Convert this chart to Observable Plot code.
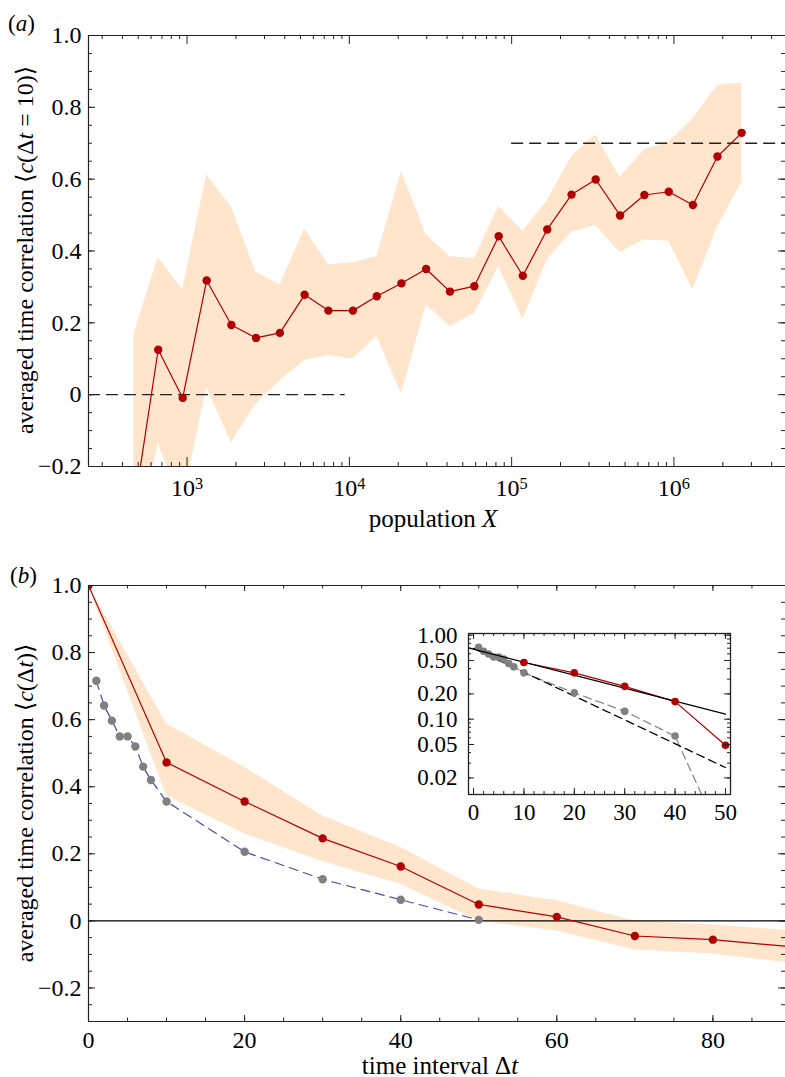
<!DOCTYPE html>
<html>
<head>
<meta charset="utf-8">
<script src="https://cdn.jsdelivr.net/npm/d3@7"></script>
<script src="https://cdn.jsdelivr.net/npm/@observablehq/plot@0.6"></script>
<style>
  html, body { margin: 0; padding: 0; background: #fff; }
  #root { position: relative; width: 785px; height: 1077px; font-family: "Liberation Serif", "DejaVu Serif", serif; }
  #root > div, #root > svg { position: absolute; }
</style>
</head>
<body>
<div id="root"></div>
<script>
// ---------- Panel (a) data ----------
const popX  = [470, 664, 940, 1321, 1875, 2661, 3733, 5297, 7430, 10520, 14760, 20940, 29720, 41690, 58880, 83180, 117200, 165600, 233900, 329600, 465600, 657600, 928900, 1309000, 1854000, 2612000];
const corrA = [-0.32, 0.125, -0.009, 0.318, 0.194, 0.158, 0.172, 0.278, 0.234, 0.234, 0.274, 0.310, 0.350, 0.287, 0.302, 0.441, 0.331, 0.460, 0.557, 0.599, 0.499, 0.556, 0.565, 0.528, 0.663, 0.729];
const lowA  = [-0.435, -0.137, -0.30, 0.020, -0.133, -0.026, 0.039, 0.095, 0.109, 0.099, 0.162, 0.002, 0.250, 0.190, 0.225, 0.357, 0.209, 0.375, 0.452, 0.471, 0.396, 0.431, 0.427, 0.292, 0.466, 0.591];
const highA = [0.167, 0.382, 0.292, 0.613, 0.522, 0.341, 0.306, 0.461, 0.362, 0.367, 0.385, 0.621, 0.446, 0.384, 0.379, 0.524, 0.454, 0.540, 0.663, 0.723, 0.605, 0.682, 0.703, 0.768, 0.861, 0.868];
const refZeroX = [247, 9300];      // dashed reference at 0
const refHighX = [100000, 4868000]; // dashed reference at 0.7
const refHighY = 0.7;
const xTicksA = [1e3, 1e4, 1e5, 1e6];

// ---------- Panel (b) data ----------
const dtRed   = [0, 10, 20, 30, 40, 50, 60, 70, 80, 90];
const corrRed = [1.0, 0.4725, 0.356, 0.246, 0.162, 0.049, 0.012, -0.045, -0.056, -0.077];
const lowB    = [1.0, 0.373, 0.259, 0.177, 0.109, 0.0, -0.030, -0.087, -0.099, -0.126];
const highB   = [1.0, 0.587, 0.458, 0.313, 0.219, 0.095, 0.060, 0.0, -0.012, -0.029];
const dtGray   = [1, 2, 3, 4, 5, 6, 7, 8, 10, 20, 30, 40, 50];
const corrGray = [0.716, 0.642, 0.597, 0.550, 0.550, 0.520, 0.460, 0.420, 0.356, 0.206, 0.124, 0.063, 0.003];
const xTicksB = [0, 20, 40, 60, 80];

// ---------- Inset data ----------
const fitSolidT = [-1, 50];
const fitSolidC = [0.706, 0.115];
const fitDashT  = [0, 50];
const fitDashC  = [0.695, 0.0266];
const insetYTicks = [1, 0.5, 0.2, 0.1, 0.05, 0.02];
const insetXTicks = [0, 10, 20, 30, 40, 50];

// ---------- colours ----------
const RED = "#b00000", BAND = "#ffe5cc", GRAY = "#808080", BLUE = "#4a4aa8", INK = "#222";
const FONT = "'Liberation Serif', 'DejaVu Serif', serif";
const TICKFS = 24;

const root = document.getElementById("root");

function range(a, b, s) { const out = []; for (let v = a; v <= b + 1e-9; v += s) out.push(+v.toFixed(6)); return out; }
const fmtY = d => d === 0 ? "0" : (d < 0 ? "\u2212" + Math.abs(d).toFixed(1) : d.toFixed(1));

function yTicks(major, minor, W, side) {
  const ins = side === "left" ? "insetRight" : "insetLeft";
  return [
    Plot.tickY(minor, {y: d => d, stroke: INK, strokeWidth: 1, [ins]: W - 4}),
    Plot.tickY(major, {y: d => d, stroke: INK, strokeWidth: 1, [ins]: W - 7})
  ];
}
function xTicks(major, minor, H, side, majLen = 9, minLen = 4) {
  const ins = side === "bottom" ? "insetTop" : "insetBottom";
  return [
    Plot.tickX(minor, {x: d => d, stroke: INK, strokeWidth: 1, [ins]: H - minLen}),
    Plot.tickX(major, {x: d => d, stroke: INK, strokeWidth: 1, [ins]: H - majLen})
  ];
}
function addText(svg, x, y, parts, opts = {}) {
  const t = d3.select(svg).append("text")
    .attr("x", x).attr("y", y)
    .attr("font-family", FONT).attr("font-size", opts.size || 24)
    .attr("text-anchor", opts.anchor || "middle").attr("fill", "#000");
  if (opts.rotate) t.attr("transform", `rotate(-90 ${x} ${y})`);
  for (const p of parts) {
    const s = t.append("tspan").text(p.t);
    if (p.i) s.attr("font-style", "italic");
  }
  return t;
}

// ================= Panel (a) =================
{
  const W = 785, H = 550, mL = 88, mR = 0, mT = 35, mB = 84;
  const pw = W - mL - mR, ph = H - mT - mB;
  const data = popX.map((x, i) => ({x, y: corrA[i], lo: lowA[i], hi: highA[i]}));
  const xDom = [247, 4868000];
  const yMinor = range(-0.2, 1.0, 0.05);
  const yMajor = range(-0.2, 1.0, 0.2);
  const xMinor = [];
  for (let e = 2; e <= 6; e++) for (let k = 2; k <= 9; k++) { const v = k * 10 ** e; if (v > xDom[0] && v < xDom[1]) xMinor.push(v); }

  const svg = Plot.plot({
    width: W, height: H, marginLeft: mL, marginRight: mR, marginTop: mT, marginBottom: mB,
    style: {fontFamily: FONT, fontSize: TICKFS + "px", background: "transparent", overflow: "visible"},
    x: {type: "log", domain: xDom},
    y: {domain: [-0.2, 1.0]},
    marks: [
      Plot.areaY(data, {x: "x", y1: "lo", y2: "hi", fill: BAND, clip: true}),
      Plot.line(refZeroX.map(x => ({x, y: 0})), {x: "x", y: "y", stroke: INK, strokeWidth: 1.3, strokeDasharray: "11,7"}),
      Plot.line(refHighX.map(x => ({x, y: refHighY})), {x: "x", y: "y", stroke: INK, strokeWidth: 1.3, strokeDasharray: "11,7"}),
      Plot.line(data, {x: "x", y: "y", stroke: RED, strokeWidth: 1.2, clip: true}),
      Plot.dot(data, {x: "x", y: "y", r: 4.2, fill: RED, clip: true}),
      Plot.ruleY([1.0], {stroke: INK, strokeWidth: 1.2}),
      Plot.ruleY([-0.2], {stroke: INK, strokeWidth: 1.2}),
      Plot.ruleX([xDom[0]], {stroke: INK, strokeWidth: 1.2}),
      ...yTicks(yMajor, yMinor, pw, "left"),
      ...yTicks(yMajor, yMinor, pw, "right"),
      ...xTicks(xTicksA, xMinor, ph, "bottom"),
      ...xTicks(xTicksA, xMinor, ph, "top"),
      Plot.axisY({ticks: yMajor, tickSize: 0, tickPadding: 7, tickFormat: fmtY, fontSize: TICKFS, label: null}),
      Plot.axisX({ticks: xTicksA, tickSize: 0, tickPadding: 12, tickFormat: d => "10^" + Math.round(Math.log10(d)), fontSize: TICKFS, label: null})
    ]
  });
  svg.style.left = "0px"; svg.style.top = "0px";
  root.appendChild(svg);
  d3.select(svg).selectAll('g[aria-label="x-axis tick label"] text').each(function () {
    const [b, e] = this.textContent.split("^");
    this.textContent = b;
    d3.select(this).append("tspan").attr("dy", "-0.42em").attr("font-size", "0.68em").text(e);
  });
  addText(svg, 33, 250, [{t: "averaged time correlation \u27E8"}, {t: "c", i: 1}, {t: "(\u0394"}, {t: "t", i: 1}, {t: " = 10)\u27E9"}], {rotate: true, size: 24});
  addText(svg, 433, 527, [{t: "population "}, {t: "X", i: 1}], {size: 25});
  addText(svg, 8, 31, [{t: "("}, {t: "a", i: 1}, {t: ")"}], {anchor: "start", size: 23});
}

// ================= Panel (b) =================
{
  const W = 785, H = 527, mL = 88, mR = 0, mT = 35, mB = 56;
  const pw = W - mL - mR, ph = H - mT - mB;
  const red = dtRed.map((x, i) => ({x, y: corrRed[i], lo: lowB[i], hi: highB[i]}));
  const gray = dtGray.map((x, i) => ({x, y: corrGray[i]}));
  const xDom = [0, 89.3];
  const yMinor = range(-0.3, 1.0, 0.05);
  const yMajor = range(-0.2, 1.0, 0.2);
  const xMinor = range(0, 85, 5);

  const svg = Plot.plot({
    width: W, height: H, marginLeft: mL, marginRight: mR, marginTop: mT, marginBottom: mB,
    style: {fontFamily: FONT, fontSize: TICKFS + "px", background: "transparent", overflow: "visible"},
    x: {domain: xDom},
    y: {domain: [-0.3, 1.0]},
    marks: [
      Plot.areaY(red, {x: "x", y1: "lo", y2: "hi", fill: BAND, clip: true}),
      Plot.ruleY([0], {stroke: "#000", strokeWidth: 1.1}),
      Plot.line(gray, {x: "x", y: "y", stroke: BLUE, strokeWidth: 1.2, strokeDasharray: "9,6", clip: true}),
      Plot.dot(gray, {x: "x", y: "y", r: 4.2, fill: GRAY, clip: true}),
      Plot.line(red, {x: "x", y: "y", stroke: RED, strokeWidth: 1.2, clip: true}),
      Plot.dot(red, {x: "x", y: "y", r: 4.2, fill: RED, clip: true}),
      Plot.ruleY([1.0], {stroke: INK, strokeWidth: 1.2}),
      Plot.ruleY([-0.3], {stroke: INK, strokeWidth: 1.2}),
      Plot.ruleX([0], {stroke: INK, strokeWidth: 1.2}),
      ...yTicks(yMajor, yMinor, pw, "left"),
      ...yTicks(yMajor, yMinor, pw, "right"),
      ...xTicks(xTicksB, xMinor, ph, "bottom", 6, 3.5),
      ...xTicks(xTicksB, xMinor, ph, "top", 6, 3.5),
      Plot.axisY({ticks: yMajor, tickSize: 0, tickPadding: 7, tickFormat: fmtY, fontSize: TICKFS, label: null}),
      Plot.axisX({ticks: xTicksB, tickSize: 0, tickPadding: 9, tickFormat: d => String(d), fontSize: TICKFS, label: null})
    ]
  });
  svg.style.left = "0px"; svg.style.top = "550px";
  root.appendChild(svg);
  addText(svg, 33, 253, [{t: "averaged time correlation \u27E8"}, {t: "c", i: 1}, {t: "(\u0394"}, {t: "t", i: 1}, {t: ")\u27E9"}], {rotate: true, size: 24});
  addText(svg, 440, 524, [{t: "time interval \u0394"}, {t: "t", i: 1}], {size: 25});
  addText(svg, 10, 33, [{t: "("}, {t: "b", i: 1}, {t: ")"}], {anchor: "start", size: 23});
}

// ================= Inset =================
{
  const W = 340, H = 200, mL = 68, mR = 10, mT = 13, mB = 26;
  const pw = W - mL - mR, ph = H - mT - mB;
  const red = dtRed.map((x, i) => ({x, y: corrRed[i]})).filter(d => d.x >= 10 && d.x <= 50);
  const gray = dtGray.map((x, i) => ({x, y: corrGray[i]}));
  const solid = fitSolidT.map((x, i) => ({x, y: fitSolidC[i]}));
  const dash = fitDashT.map((x, i) => ({x, y: fitDashC[i]}));
  const yDom = [0.0127, 1.047];
  const yMinor = [];
  for (const e of [-2, -1, 0]) for (let k = 1; k <= 9; k++) { const v = k * 10 ** e; if (v >= yDom[0] && v <= yDom[1]) yMinor.push(v); }
  const xMinor = range(0, 50, 2);

  const svg = Plot.plot({
    width: W, height: H, marginLeft: mL, marginRight: mR, marginTop: mT, marginBottom: mB,
    style: {fontFamily: FONT, fontSize: "23px", background: "transparent", overflow: "visible"},
    x: {domain: [-1, 51]},
    y: {type: "log", domain: yDom},
    marks: [
      Plot.line(gray, {x: "x", y: "y", stroke: "#8a8a8a", strokeWidth: 1.3, strokeDasharray: "8,5", clip: true}),
      Plot.line(dash, {x: "x", y: "y", stroke: "#000", strokeWidth: 1.3, strokeDasharray: "8,5", clip: true}),
      Plot.dot(gray, {x: "x", y: "y", r: 3.8, fill: GRAY, clip: true}),
      Plot.line(red, {x: "x", y: "y", stroke: RED, strokeWidth: 1.2, clip: true}),
      Plot.line(solid, {x: "x", y: "y", stroke: "#000", strokeWidth: 1.3, clip: true}),
      Plot.dot(red, {x: "x", y: "y", r: 3.8, fill: RED, clip: true}),
      Plot.frame({stroke: INK, strokeWidth: 1.3}),
      Plot.tickY(yMinor, {y: d => d, stroke: INK, insetRight: pw - 3}),
      Plot.tickY(insetYTicks, {y: d => d, stroke: INK, insetRight: pw - 6}),
      Plot.tickY(yMinor, {y: d => d, stroke: INK, insetLeft: pw - 3}),
      Plot.tickY(insetYTicks, {y: d => d, stroke: INK, insetLeft: pw - 6}),
      ...xTicks(insetXTicks, xMinor, ph, "bottom", 6, 3),
      ...xTicks(insetXTicks, xMinor, ph, "top", 6, 3),
      Plot.axisY({ticks: insetYTicks, tickSize: 0, tickPadding: 11, tickFormat: d3.format(".2f"), fontSize: 23, label: null}),
      Plot.axisX({ticks: insetXTicks, tickSize: 0, tickPadding: 9, tickFormat: d => String(d), fontSize: 23, label: null})
    ]
  });
  svg.style.left = "400px"; svg.style.top = "620px";
  root.appendChild(svg);
}
</script>
</body>
</html>
